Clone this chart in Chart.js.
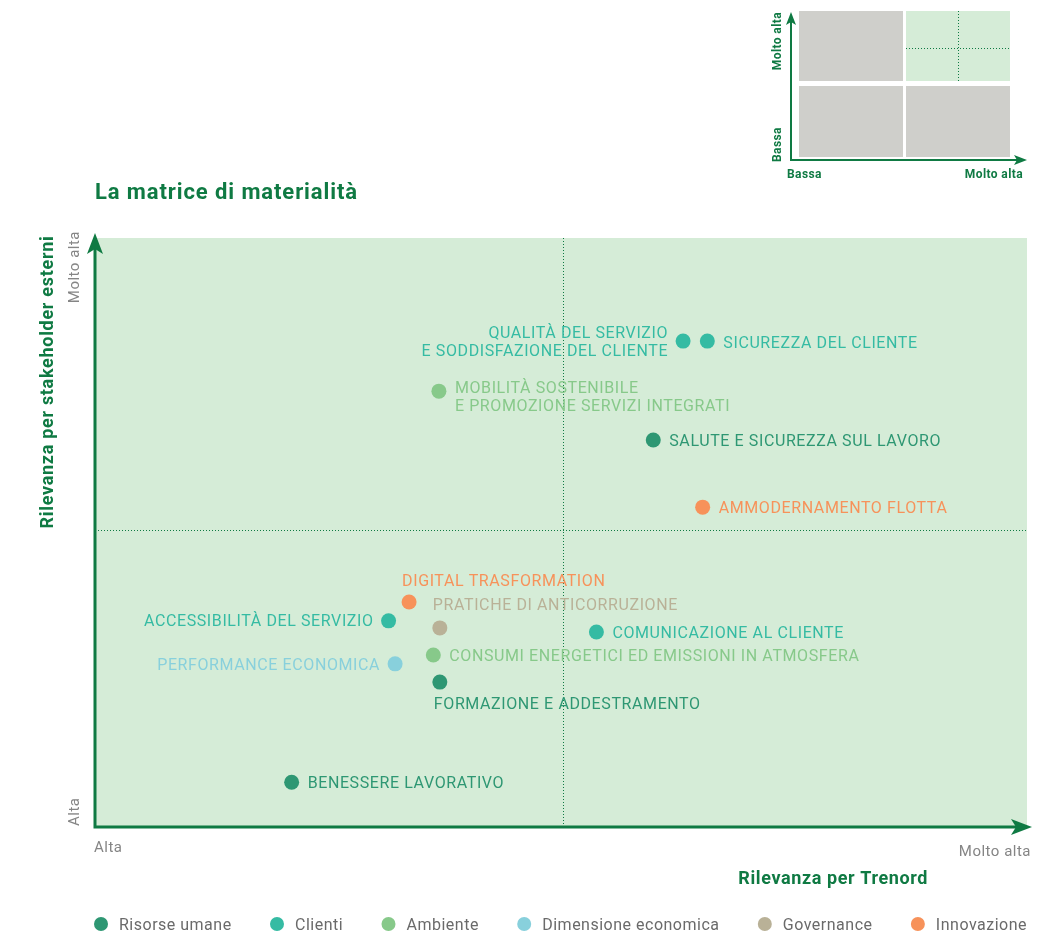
<!DOCTYPE html>
<html>
<head>
<meta charset="utf-8">
<script src="https://cdn.jsdelivr.net/npm/chart.js@4"></script>
<style>
  html, body { margin: 0; padding: 0; background: #fff; }
  #wrap { width: 1043px; height: 931px; position: relative; }
</style>
</head>
<body>
<div id="wrap"><canvas id="chart"></canvas></div>
<script>
// categories of the material topics
const categories = ['Risorse umane', 'Clienti', 'Ambiente', 'Dimensione economica', 'Governance', 'Innovazione'];

// topics, their category and their relevance (0-100 on each axis)
const topics = [
  'QUALITÀ DEL SERVIZIO\nE SODDISFAZIONE DEL CLIENTE',
  'SICUREZZA DEL CLIENTE',
  'MOBILITÀ SOSTENIBILE\nE PROMOZIONE SERVIZI INTEGRATI',
  'SALUTE E SICUREZZA SUL LAVORO',
  'AMMODERNAMENTO FLOTTA',
  'DIGITAL TRASFORMATION',
  'ACCESSIBILITÀ DEL SERVIZIO',
  'PRATICHE DI ANTICORRUZIONE',
  'COMUNICAZIONE AL CLIENTE',
  'CONSUMI ENERGETICI ED EMISSIONI IN ATMOSFERA',
  'PERFORMANCE ECONOMICA',
  'FORMAZIONE E ADDESTRAMENTO',
  'BENESSERE LAVORATIVO'
];
const topicCategory = [
  'Clienti', 'Clienti', 'Ambiente', 'Risorse umane', 'Innovazione', 'Innovazione',
  'Clienti', 'Governance', 'Clienti', 'Ambiente', 'Dimensione economica',
  'Risorse umane', 'Risorse umane'
];
const relevanceTrenord = [63.1, 65.7, 36.9, 59.9, 65.2, 33.7, 31.5, 37.0, 53.8, 36.3, 32.2, 37.0, 21.1];
const relevanceStakeholder = [82.5, 82.5, 74.0, 65.7, 54.3, 38.2, 35.0, 33.8, 33.1, 29.2, 27.7, 24.6, 7.6];

// quadrant dividers
const xDivider = 50.2;
const yDivider = 50.5;

// axis tick labels (min, max)
const xTickLabels = ['Alta', 'Molto alta'];
const yTickLabels = ['Alta', 'Molto alta'];

// style
const catColors = ['#2e9773', '#35bba3', '#87c98a', '#88d0dc', '#b9b197', '#f7925a'];
const labelSide = ['left', 'right', 'right', 'right', 'right', 'above', 'left', 'above', 'right', 'right', 'left', 'below', 'right'];
const labelNudge = [0, 1, 5, 0, 0, 1, 0, 0, 0, 0, 1, 0, 0];
const GREEN = '#0f7a43';
const BG = '#d5ecd7';
const FONT = 'Roboto, "Open Sans", sans-serif';

const datasets = categories.map((cat, ci) => {
  const idx = topics.map((t, i) => i).filter(i => topicCategory[i] === cat);
  return {
    label: cat,
    data: idx.map(i => ({ x: relevanceTrenord[i], y: relevanceStakeholder[i], name: topics[i], side: labelSide[i], dy: labelNudge[i] })),
    backgroundColor: catColors[ci],
    borderWidth: 0,
    pointRadius: 7.5,
    pointHoverRadius: 7.5
  };
});

function arrowHead(ctx, x, y, dir) {
  ctx.beginPath();
  if (dir === 'up') {
    ctx.moveTo(x, y);
    ctx.lineTo(x + 8, y + 21);
    ctx.lineTo(x, y + 16);
    ctx.lineTo(x - 8, y + 21);
  } else {
    ctx.moveTo(x, y);
    ctx.lineTo(x - 21, y - 8);
    ctx.lineTo(x - 16, y);
    ctx.lineTo(x - 21, y + 8);
  }
  ctx.closePath();
  ctx.fill();
}

function smallArrow(ctx, x, y, dir) {
  ctx.beginPath();
  if (dir === 'up') {
    ctx.moveTo(x, y);
    ctx.lineTo(x + 5, y + 13);
    ctx.lineTo(x, y + 10);
    ctx.lineTo(x - 5, y + 13);
  } else {
    ctx.moveTo(x, y);
    ctx.lineTo(x - 13, y - 5);
    ctx.lineTo(x - 10, y);
    ctx.lineTo(x - 13, y + 5);
  }
  ctx.closePath();
  ctx.fill();
}

const matrixPlugin = {
  id: 'matrix',
  beforeDatasetsDraw(chart) {
    const { ctx, chartArea: a, scales } = chart;
    ctx.save();
    ctx.fillStyle = BG;
    ctx.fillRect(a.left, a.top, a.right - a.left, a.bottom - a.top);
    // dotted mid lines
    const mx = Math.round(scales.x.getPixelForValue(xDivider)) + 0.5;
    const my = Math.round(scales.y.getPixelForValue(yDivider)) + 0.5;
    ctx.strokeStyle = GREEN;
    ctx.lineWidth = 1;
    ctx.setLineDash([1, 2]);
    ctx.beginPath();
    ctx.moveTo(mx, a.top); ctx.lineTo(mx, a.bottom);
    ctx.moveTo(a.left, my); ctx.lineTo(a.right, my);
    ctx.stroke();
    ctx.setLineDash([]);
    // axes with arrows
    ctx.lineWidth = 3;
    ctx.fillStyle = GREEN;
    ctx.beginPath();
    ctx.moveTo(a.left, a.bottom);
    ctx.lineTo(a.left, a.top);
    ctx.moveTo(a.left - 1.5, a.bottom);
    ctx.lineTo(a.right, a.bottom);
    ctx.stroke();
    arrowHead(ctx, a.left, a.top - 5, 'up');
    arrowHead(ctx, a.right + 5, a.bottom, 'right');
    ctx.restore();
  },
  afterDatasetsDraw(chart) {
    const { ctx, chartArea: a, scales } = chart;
    ctx.save();
    // point labels
    ctx.font = '16px ' + FONT;
    ctx.letterSpacing = '0.6px';
    chart.data.datasets.forEach((ds, di) => {
      const meta = chart.getDatasetMeta(di);
      ds.data.forEach((d, i) => {
        const el = meta.data[i];
        const lines = d.name.split('\n');
        ctx.fillStyle = ds.backgroundColor;
        ctx.textBaseline = 'middle';
        let x = el.x, y = el.y + d.dy + 1.5;
        if (d.side === 'right') { ctx.textAlign = 'left'; x += 16; y -= (lines.length - 1) * 9; }
        else if (d.side === 'left') { ctx.textAlign = 'right'; x -= 15; y -= (lines.length - 1) * 9; }
        else if (d.side === 'above') { ctx.textAlign = 'left'; x -= 7; y -= 23; }
        else { ctx.textAlign = 'left'; x -= 6; y += 21; }
        lines.forEach((ln, k) => ctx.fillText(ln, x, y + k * 18));
      });
    });
    // tick labels
    ctx.fillStyle = '#858585';
    ctx.font = '15px ' + FONT;
    ctx.letterSpacing = '0.5px';
    ctx.textBaseline = 'middle';
    ctx.textAlign = 'left';
    ctx.fillText(xTickLabels[0], scales.x.getPixelForValue(0) - 1, 848);
    ctx.textAlign = 'right';
    ctx.fillText(xTickLabels[1], scales.x.getPixelForValue(100) + 4, 852);
    ctx.save();
    ctx.translate(75, 0);
    ctx.rotate(-Math.PI / 2);
    ctx.textAlign = 'left';
    ctx.fillText(yTickLabels[0], -scales.y.getPixelForValue(0) + 1, 0);
    ctx.textAlign = 'right';
    ctx.fillText(yTickLabels[1], -scales.y.getPixelForValue(100) + 7, 0);
    ctx.restore();
    // axis titles
    ctx.fillStyle = GREEN;
    ctx.font = 'bold 18px ' + FONT;
    ctx.letterSpacing = '0.6px';
    ctx.textAlign = 'right';
    ctx.fillText('Rilevanza per Trenord', 928, 879);
    ctx.save();
    ctx.translate(48, 382);
    ctx.rotate(-Math.PI / 2);
    ctx.textAlign = 'center';
    ctx.letterSpacing = '0.7px';
    ctx.fillText('Rilevanza per stakeholder esterni', 0, 0);
    ctx.restore();
    // chart title
    ctx.font = 'bold 22px ' + FONT;
    ctx.letterSpacing = '0.9px';
    ctx.textAlign = 'left';
    ctx.fillText('La matrice di materialità', 95, 193);
    // legend
    ctx.font = '16px ' + FONT;
    ctx.letterSpacing = '0.5px';
    const widths = categories.map(c => 25 + ctx.measureText(c).width);
    const total = widths.reduce((s, w) => s + w, 0);
    const gap = (1027 - 94 - total) / (categories.length - 1);
    let lx = 94;
    categories.forEach((c, i) => {
      ctx.fillStyle = catColors[i];
      ctx.beginPath();
      ctx.arc(lx + 7, 924, 7, 0, Math.PI * 2);
      ctx.fill();
      ctx.fillStyle = '#6a6a6a';
      ctx.textAlign = 'left';
      ctx.fillText(c, lx + 25, 925.5);
      lx += widths[i] + gap;
    });
    // small guide matrix (top right)
    ctx.letterSpacing = '0px';
    ctx.fillStyle = '#cfcfcb';
    ctx.fillRect(799, 11, 104, 70);
    ctx.fillRect(799, 86, 104, 71);
    ctx.fillRect(906, 86, 104, 71);
    ctx.fillStyle = BG;
    ctx.fillRect(906, 11, 104, 70);
    ctx.strokeStyle = GREEN;
    ctx.lineWidth = 1;
    ctx.setLineDash([1, 2]);
    ctx.beginPath();
    ctx.moveTo(958.5, 11); ctx.lineTo(958.5, 81);
    ctx.moveTo(906, 48.5); ctx.lineTo(1010, 48.5);
    ctx.stroke();
    ctx.setLineDash([]);
    ctx.lineWidth = 2;
    ctx.beginPath();
    ctx.moveTo(791, 160); ctx.lineTo(791, 20);
    ctx.moveTo(790, 160); ctx.lineTo(1020, 160);
    ctx.stroke();
    ctx.fillStyle = GREEN;
    smallArrow(ctx, 791, 12, 'up');
    smallArrow(ctx, 1027, 160, 'right');
    ctx.font = 'bold 12px ' + FONT;
    ctx.letterSpacing = '0.4px';
    ctx.textAlign = 'left';
    ctx.fillText('Bassa', 787, 175);
    ctx.textAlign = 'right';
    ctx.fillText('Molto alta', 1023, 175);
    ctx.save();
    ctx.translate(778, 0);
    ctx.rotate(-Math.PI / 2);
    ctx.textAlign = 'left';
    ctx.fillText('Bassa', -162, 0);
    ctx.textAlign = 'right';
    ctx.fillText('Molto alta', -12, 0);
    ctx.restore();
    ctx.restore();
  }
};

new Chart(document.getElementById('chart'), {
  type: 'scatter',
  data: { datasets: datasets },
  options: {
    responsive: true,
    maintainAspectRatio: false,
    animation: false,
    layout: { padding: { left: 95, right: 16, top: 238, bottom: 104 } },
    scales: {
      x: { type: 'linear', min: 0, max: 100, display: false },
      y: { type: 'linear', min: 0, max: 100, display: false }
    },
    plugins: {
      legend: { display: false },
      tooltip: { enabled: false }
    }
  },
  plugins: [matrixPlugin]
});
</script>
</body>
</html>
